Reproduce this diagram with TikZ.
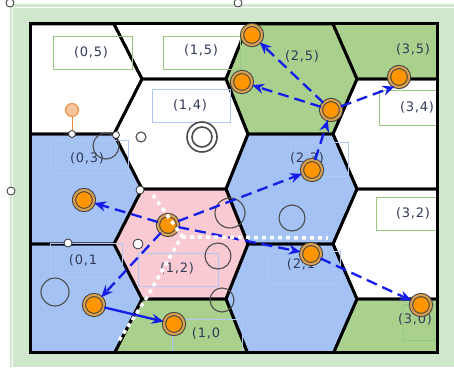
\documentclass[tikz,border=0pt]{standalone}
\usepackage{fontspec}
\setmainfont{DejaVu Sans}
\newfontfamily\lblfont[LetterSpace=6]{DejaVu Sans}
\usetikzlibrary{arrows.meta}
\definecolor{bgG}{RGB}{208,232,204}
\definecolor{hexB}{RGB}{164,194,244}
\definecolor{hexG}{RGB}{170,208,142}
\definecolor{hexP}{RGB}{250,202,210}
\definecolor{boxG}{RGB}{150,200,130}
\definecolor{boxB}{RGB}{175,200,245}
\definecolor{txt}{RGB}{50,58,88}
\definecolor{arr}{RGB}{20,30,235}
\definecolor{orng}{RGB}{255,150,0}
\definecolor{ring}{RGB}{215,160,80}
\definecolor{hdl}{RGB}{240,140,60}
\newcommand{\hx}[8]{\path[hexstyle=#8] (#1,#6) -- (#2,#5) -- (#3,#5) -- (#4,#6) -- (#3,#7) -- (#2,#7) -- cycle;}
\newcommand{\allcells}{%
 \hx{10}{10}{114}{142}{24}{79}{134}{white}
 \hx{10}{10}{114}{142}{134}{189}{244}{hexB}
 \hx{10}{10}{114}{142}{244}{299}{354}{hexB}
 \hx{114}{142}{226}{248}{-31}{24}{79}{white}
 \hx{114}{142}{226}{248}{79}{134}{189}{white}
 \hx{114}{142}{226}{248}{189}{244}{299}{hexP}
 \hx{114}{142}{226}{248}{299}{354}{409}{hexG}
 \hx{226}{248}{333}{357}{24}{79}{134}{hexG}
 \hx{226}{248}{333}{357}{134}{189}{244}{hexB}
 \hx{226}{248}{333}{357}{244}{299}{354}{hexB}
 \hx{333}{357}{460}{460}{-31}{24}{79}{hexG}
 \hx{333}{357}{460}{460}{79}{134}{189}{white}
 \hx{333}{357}{460}{460}{189}{244}{299}{white}
 \hx{333}{357}{460}{460}{299}{354}{409}{hexG}}
\tikzset{
 lbl/.style={font=\lblfont\fontsize{13}{15}\selectfont, text=txt, inner sep=0pt},
 gbox/.style={draw=boxG, line width=0.9pt},
 bbox/.style={draw=boxB, line width=0.9pt},
 gring/.style={draw=black!70, line width=1.1pt},
 orange node/.style={circle, minimum size=20pt, inner sep=0pt, fill=orng, draw=black!75, line width=1pt, double=ring, double distance=2.2pt},
 flow/.style={draw=arr, line width=2.3pt, dash pattern=on 11pt off 6pt, -{Stealth[length=12pt,width=10pt]}},
 flowsolid/.style={draw=arr, line width=2.3pt, -{Stealth[length=12pt,width=10pt]}},
 handle/.style={circle, draw=black!80, fill=white, line width=0.8pt, inner sep=0pt},
 wdots/.style={draw=white, line width=3.5pt, dash pattern=on 4pt off 4pt}
}
\begin{document}
\begin{tikzpicture}[x=1pt,y=-1pt]
\useasboundingbox (0,0) rectangle (454,367);
\fill[white] (0,0) rectangle (454,367);
\fill[bgG] (10,4) rectangle (454,367);
\draw[white, line width=1.2pt] (12.5,6) -- (12.5,367);
\draw[white, line width=1.2pt] (12.5,7.5) -- (454,7.5);
\begin{scope}
 \clip (30,23) rectangle (437,352);
 \tikzset{hexstyle/.style={fill=#1}}
 \allcells
 \tikzset{hexstyle/.style={draw=black, line width=2.8pt, line join=round}}
 \allcells
 % label boxes
 \draw[gbox] (53,36) rectangle (132,69);
 \draw[gbox] (163,36) rectangle (240,69);
 \draw[bbox] (152,89) rectangle (230,122);
 \draw[gbox] (379,90) rectangle (460,125);
 \draw[bbox] (50,140) rectangle (128,173);
 \draw[bbox] (290,142) rectangle (348,176);
 \draw[gbox] (376,197) rectangle (460,230);
 \draw[bbox] (50,243) rectangle (122,277);
 \draw[bbox] (138,253) rectangle (218,286);
 \draw[bbox] (268,251) rectangle (340,283);
 \draw[bbox] (172,319) rectangle (242,360);
 \draw[gbox] (403,304) rectangle (460,340);
\end{scope}
\draw[line width=3pt] (30,23) rectangle (437,352);
% labels
\node[lbl] (l05) at (91,52) {(0,5)};
\node[lbl] (l15) at (201,50) {(1,5)};
\node[lbl] (l25) at (302,56) {(2,5)};
\node[lbl] (l35) at (413,49) {(3,5)};
\node[lbl] (l14) at (190,105) {(1,4)};
\node[lbl] (l34) at (417,107) {(3,4)};
\node[lbl] (l03) at (87,158) {(0,3)};
\node[lbl] (l23) at (307,158) {(2,3)};
\node[lbl] (l32) at (413,213) {(3,2)};
\node[lbl] (l01) at (83,260) {(0,1};
\node[lbl] (l12) at (177,268) {(1,2)};
\node[lbl] (l21) at (301,264) {(2,1};
\node[lbl] (l10) at (206,333) {(1,0};
\node[lbl] (l30) at (415,319) {(3,0)};
% outline circles
\draw[gring] (106,146) circle (13);
\draw[gring, line width=1.6pt] (202,137) circle (15);
\draw[gring, line width=1.6pt] (202,137) circle (10);
\draw[gring] (141,137) circle (5);
\draw[gring] (230,213) circle (15);
\draw[gring] (292,218) circle (13);
\draw[gring] (218,256) circle (13);
\draw[gring] (55,292) circle (14);
\draw[gring] (222,300) circle (12);
% orange nodes
\node[orange node] (A) at (252,35) {};
\node[orange node] (B) at (242,82) {};
\node[orange node] (C) at (331,110) {};
\node[orange node] (D) at (399,77) {};
\node[orange node] (E) at (312,170) {};
\node[orange node] (F) at (84,200) {};
\node[orange node] (G) at (168,225) {};
\node[orange node] (H) at (311,254) {};
\node[orange node] (I) at (94,305) {};
\node[orange node] (J) at (174,324) {};
\node[orange node] (K) at (421,305) {};
% flows
\draw[flow] (C) -- (A);
\draw[flow] (C) -- (B);
\draw[flow] (C) -- (D.245);
\draw[flow] (E) -- (C);
\draw[flow] (G) -- (E);
\draw[flow] (G) -- (F);
\draw[flow] (G) -- (H);
\draw[flow] (G) -- (I);
\draw[flowsolid] (I) -- (J);
\draw[flow] (H) -- (K);
% white dotted route
\draw[wdots] (153,195) -- (182,236) -- (147,297) -- (118,342);
\draw[wdots] (182,237) -- (328,238);
% handles
\draw[hdl, line width=1pt] (72,117) -- (72,130);
\node[circle, draw=hdl, fill=hdl!50, line width=1pt, minimum size=13pt, inner sep=0pt] (oh) at (72,110) {};
\node[handle, minimum size=7pt] (h1) at (72,134) {};
\node[handle, minimum size=7pt] (h2) at (116,135) {};
\node[handle, minimum size=8pt] (h3) at (140,190) {};
\node[handle, minimum size=8pt] (h4) at (68,243) {};
\node[handle, minimum size=10pt] (h5) at (138,244) {};
\node[handle, minimum size=8pt] (h6) at (11,191) {};
\node[handle, minimum size=8pt] (h7) at (10,3) {};
\node[handle, minimum size=8pt] (h8) at (238,3) {};
\end{tikzpicture}
\end{document}
